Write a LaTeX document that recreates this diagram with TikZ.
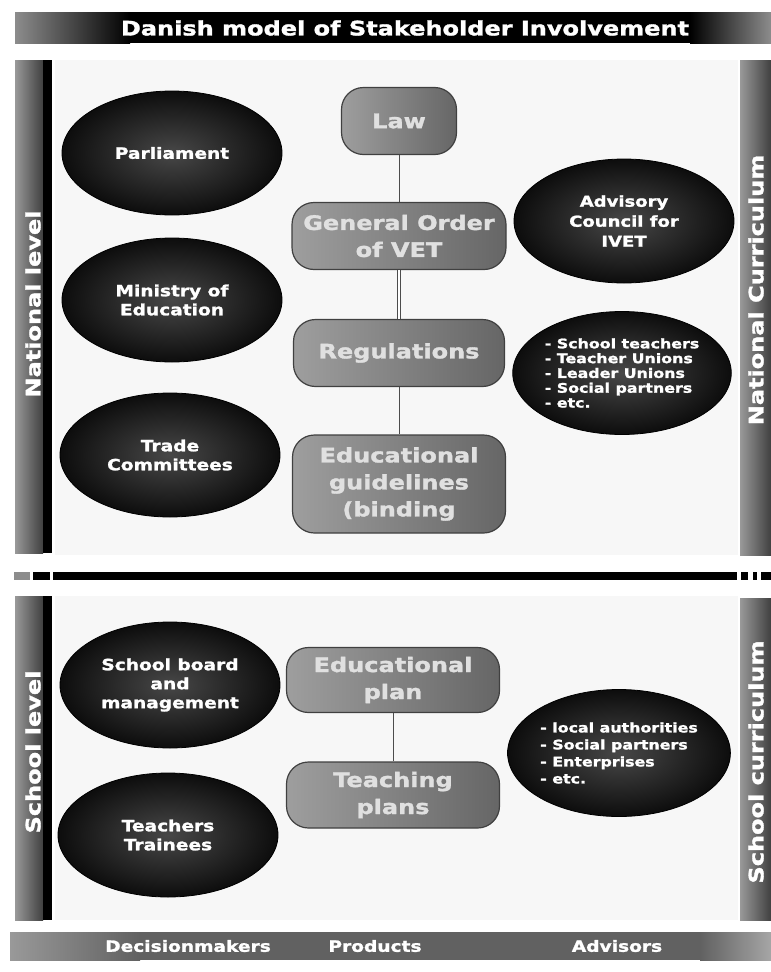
\documentclass[tikz,border=0pt]{standalone}
\usepackage{fontspec}
\newfontfamily\hv{DejaVu Sans}[FakeStretch=1.2, BoldFeatures={FakeBold=1.5}]
\usetikzlibrary{shapes.geometric}
\begin{document}
\begin{tikzpicture}[x=1pt,y=-1pt,
  oval/.style={ellipse, draw=black, line width=0.8pt, inner color=black!72, outer color=black!95,
    minimum width=220pt, minimum height=124pt, inner sep=0pt, text=white,
    font=\hv\bfseries\fontsize{15.5}{19}\selectfont, align=center},
  listoval/.style={oval, minimum width=218pt, minimum height=123pt,
    font=\hv\bfseries\fontsize{13.2}{14.8}\selectfont, align=left},
  prod/.style={rectangle, rounded corners=22pt, draw=black!75, line width=1.2pt,
    left color=black!38, right color=black!60, minimum width=213pt, minimum height=67pt,
    inner sep=0pt, text=white!88!black, font=\hv\bfseries\fontsize{20}{27}\selectfont, align=center},
  barlabel/.style={text=white, font=\hv\bfseries\fontsize{20}{24}\selectfont, rotate=90, inner sep=0pt},
  headlabel/.style={text=white, font=\hv\bfseries\fontsize{20}{24}\selectfont, inner sep=0pt},
  footlabel/.style={text=white, font=\hv\bfseries\fontsize{15.5}{19}\selectfont, inner sep=0pt},
  link/.style={draw=black!70, line width=1pt},
  dlink/.style={draw=black!70, double=white, double distance=2pt, line width=0.7pt},
  sep/.style={fill=black}
]
\useasboundingbox (0,0) rectangle (771,972);
\fill[white] (0,0) rectangle (771,972);
% faint dotted backgrounds
\fill[black!3] (55,60) rectangle (738,555);
\fill[black!3] (55,596) rectangle (738,920);

% title bar
\shade[left color=black!45, right color=black] (15,12) rectangle (130,43);
\fill[black] (130,12) rectangle (690,43);
\shade[left color=black, right color=black!45] (690,12) rectangle (771,43);
\node[headlabel] (title) at (405,28) {Danish model of Stakeholder Involvement};

% side bars
\shade[left color=black!40, right color=black!75] (15,60) rectangle (43,553);
\fill[black] (43,60) rectangle (52,553);
\shade[left color=black!40, right color=black!75] (740,60) rectangle (771,555);
\shade[left color=black!40, right color=black!75] (15,596) rectangle (43,920);
\fill[black] (43,596) rectangle (52,920);
\shade[left color=black!40, right color=black!75] (740,598) rectangle (771,920);
\node[barlabel] (natlevel) at (33,304) {National level};
\node[barlabel] (natcurr) at (756,290) {National Curriculum};
\node[barlabel] (schlevel) at (33,752) {School level};
\node[barlabel] (schcurr) at (756,762) {School curriculum};

% separator
\fill[black!45] (14,572) rectangle (30,580);
\fill[sep] (33,572) rectangle (50,580);
\fill[sep] (53,572) rectangle (737,580);
\fill[sep] (741,572) rectangle (748,580);
\fill[sep] (753,572) rectangle (757,580);
\fill[sep] (761,572) rectangle (771,580);

% bottom bar
\shade[left color=black!40, right color=black!62] (10,932) rectangle (140,960);
\fill[black!62] (140,932) rectangle (700,960);
\shade[left color=black!62, right color=black!35] (700,932) rectangle (771,960);
\node[footlabel] (dm) at (188,946) {Decisionmakers};
\node[footlabel] (pr) at (375,946) {Products};
\node[footlabel] (ad) at (617,946) {Advisors};

% decision makers
\node[oval] (parl) at (172,153) {Parliament};
\node[oval] (moe) at (172,300) {Ministry of\\Education};
\node[oval] (trade) at (170,455) {Trade\\Committees};
\node[oval, minimum height=126pt] (board) at (170,685) {School board\\and\\management};
\node[oval] (teach) at (168,835) {Teachers\\Trainees};

% products
\node[prod, minimum width=115pt] (law) at (399,121) {Law};
\node[prod, minimum width=214pt] (gen) at (399,236) {General Order\\of VET};
\node[prod, minimum width=211pt] (reg) at (399,353) {Regulations};
\node[prod, minimum height=98pt] (guide) at (399,484) {Educational\\guidelines\\(binding};
\node[prod, minimum height=65pt] (eplan) at (393,680) {Educational\\plan};
\node[prod, minimum height=66pt] (tplan) at (393,795) {Teaching\\plans};

\draw[link] (law) -- (gen);
\draw[dlink] (gen) -- (reg);
\draw[link] (reg) -- (guide);
\draw[link] (eplan) -- (tplan);

% advisors
\node[oval, font=\hv\bfseries\fontsize{15}{20}\selectfont] (acivet) at (624,221) {Advisory\\Council for\\IVET};
\node[listoval] (natadv) at (622,373) {- School teachers\\- Teacher Unions\\- Leader Unions\\- Social partners\\- etc.};
\node[listoval, minimum height=127pt, font=\hv\bfseries\fontsize{13.2}{17}\selectfont] (schadv) at (619,753) {- local authorities\\- Social partners\\- Enterprises\\- etc.};
\end{tikzpicture}
\end{document}
